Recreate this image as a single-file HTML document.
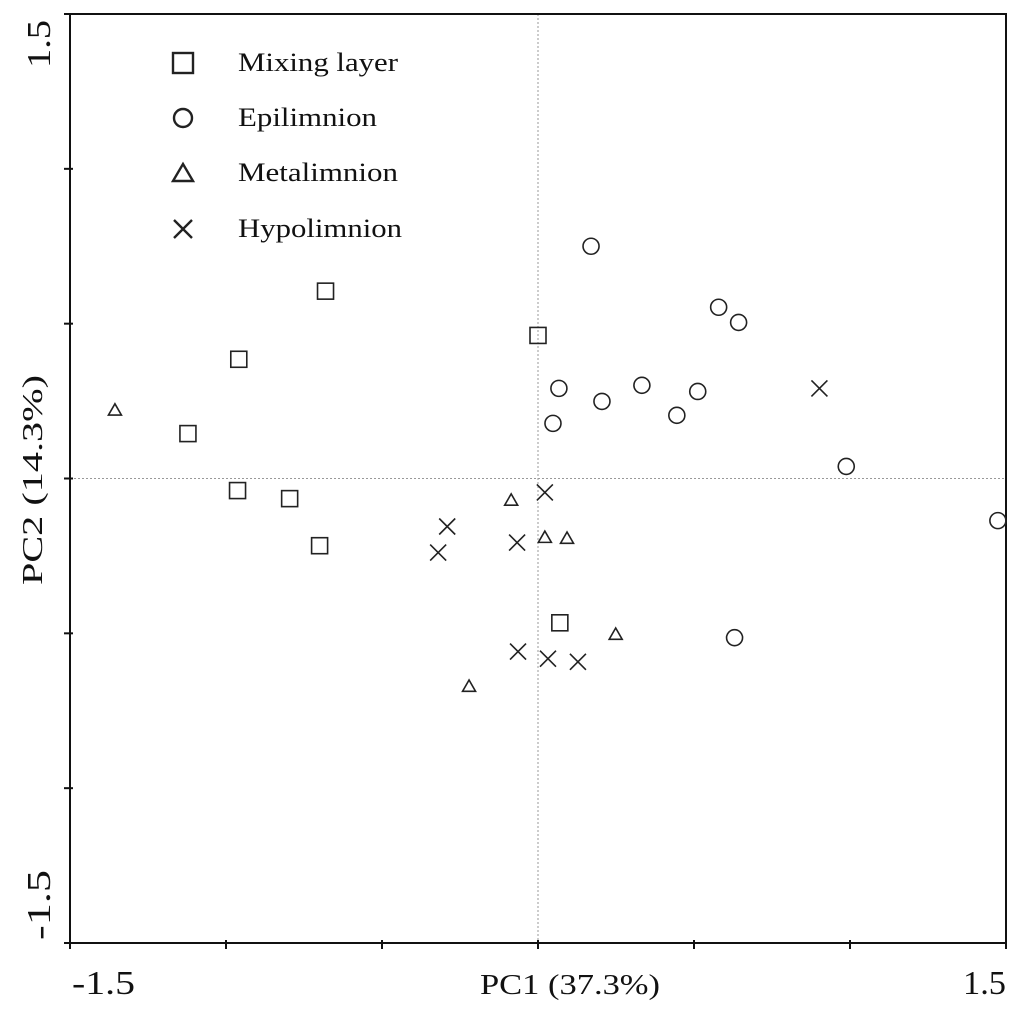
<!DOCTYPE html>
<html><head><meta charset="utf-8"><style>
html,body{margin:0;padding:0;background:#fff}
svg{display:block}
text{font-family:"Liberation Serif",serif;fill:#111}
</style></head><body>
<svg id="chart" width="1024" height="1010" viewBox="0 0 1024 1010">
<g id="frame"></g>
<g id="marks"></g>
<g id="legend"></g>
<text x="72" y="994" font-size="34" textLength="63" lengthAdjust="spacingAndGlyphs">-1.5</text>
<text x="963" y="994" font-size="34" textLength="43" lengthAdjust="spacingAndGlyphs">1.5</text>
<text x="480" y="994" font-size="28" textLength="180" lengthAdjust="spacingAndGlyphs">PC1 (37.3%)</text>
<text transform="translate(50,68) rotate(-90)" font-size="34" textLength="48" lengthAdjust="spacingAndGlyphs">1.5</text>
<text transform="translate(50,940) rotate(-90)" font-size="34" textLength="70" lengthAdjust="spacingAndGlyphs">-1.5</text>
<text transform="translate(42,585) rotate(-90)" font-size="28" textLength="210" lengthAdjust="spacingAndGlyphs">PC2 (14.3%)</text>
</svg>
<script>
const ticks=[-1.5,-1,-0.5,0,0.5,1,1.5];
const mixX=[-0.681,-0.959,-1.122,-0.963,-0.796,-0.700,0.0,0.070];
const mixY=[0.605,0.385,0.145,-0.039,-0.065,-0.217,0.462,-0.466];
const epiX=[0.170,0.579,0.643,0.067,0.205,0.333,0.512,0.445,0.048,0.988,1.474,0.630];
const epiY=[0.750,0.553,0.504,0.291,0.249,0.301,0.281,0.204,0.178,0.039,-0.136,-0.514];
const metX=[-1.356,-0.086,0.022,0.093,0.249,-0.221];
const metY=[0.223,-0.068,-0.188,-0.191,-0.501,-0.669];
const hypX=[0.902,0.022,-0.291,-0.067,-0.320,-0.064,0.032,0.128];
const hypY=[0.291,-0.045,-0.155,-0.207,-0.239,-0.559,-0.582,-0.592];
const legendLabels=["Mixing layer","Epilimnion","Metalimnion","Hypolimnion"];
const legendWidths=[160,139,160,164];

const NS="http://www.w3.org/2000/svg";
const L=70,R=1006,T=14,B=943;
const sx=v=>L+(v+1.5)/3*(R-L);
const sy=v=>B-(v+1.5)/3*(B-T);
function mk(tag,attrs,parent){const e=document.createElementNS(NS,tag);for(const k in attrs)e.setAttribute(k,attrs[k]);parent.appendChild(e);return e;}
const frame=document.getElementById('frame');
const marks=document.getElementById('marks');
const legend=document.getElementById('legend');
let e;
e=mk('line',{x1:sx(0),x2:sx(0),y1:T,y2:B,stroke:'#999','stroke-width':1,'stroke-dasharray':'2,2'},frame);


e=mk('line',{x1:L,x2:R,y1:sy(0),y2:sy(0),stroke:'#999','stroke-width':1,'stroke-dasharray':'2,2'},frame);


e=mk('rect',{x:L,y:T,width:R-L,height:B-T,fill:'none',stroke:'#111','stroke-width':2},frame);


ticks.forEach(t=>{
 e=mk('line',{x1:sx(t),x2:sx(t),y1:B-3,y2:B+6,stroke:'#111','stroke-width':2},frame);
 
 
 e=mk('line',{x1:L-6,x2:L+3,y1:sy(t),y2:sy(t),stroke:'#111','stroke-width':2},frame);
 
 
});
const st={fill:'none',stroke:'#222','stroke-width':1.6};
function square(cx,cy,s,p){return mk('rect',Object.assign({x:cx-s/2,y:cy-s/2,width:s,height:s},st),p);}
function circle(cx,cy,r,p){return mk('circle',Object.assign({cx:cx,cy:cy,r:r},st),p);}
function tri(cx,cy,s,p){const h=s*0.87;return mk('polygon',Object.assign({points:`${cx},${cy-h/2} ${cx-s/2},${cy+h/2} ${cx+s/2},${cy+h/2}`},st),p);}
function cross(cx,cy,s,p){const d=s/2;return mk('path',Object.assign({d:`M${cx-d},${cy-d}L${cx+d},${cy+d}M${cx-d},${cy+d}L${cx+d},${cy-d}`},st),p);}
mixX.forEach((x,i)=>{e=square(sx(x),sy(mixY[i]),16,marks);
 
 });
epiX.forEach((x,i)=>{e=circle(sx(x),sy(epiY[i]),8,marks);
 
 });
metX.forEach((x,i)=>{e=tri(sx(x),sy(metY[i]),13,marks);
 
 });
hypX.forEach((x,i)=>{e=cross(sx(x),sy(hypY[i]),16,marks);
 
 });
const ly=[63,118,173,229];
const lst=Object.assign({},st,{'stroke-width':2.4});
legendLabels.forEach((lab,i)=>{
 let m;
 if(i===0)m=mk('rect',Object.assign({x:173,y:ly[i]-10,width:20,height:20},lst),legend);
 if(i===1)m=mk('circle',Object.assign({cx:183,cy:ly[i],r:9},lst),legend);
 if(i===2)m=mk('polygon',Object.assign({points:`183,${ly[i]-9} 173,${ly[i]+8} 193,${ly[i]+8}`},lst),legend);
 if(i===3)m=mk('path',Object.assign({d:`M174,${ly[i]-9}L192,${ly[i]+9}M174,${ly[i]+9}L192,${ly[i]-9}`},lst),legend);
 
 
 const t=mk('text',{x:238,y:ly[i]+8,'font-size':26,textLength:legendWidths[i],lengthAdjust:'spacingAndGlyphs'},legend);
 t.textContent=lab;
 
 
});
</script>
</body></html>
